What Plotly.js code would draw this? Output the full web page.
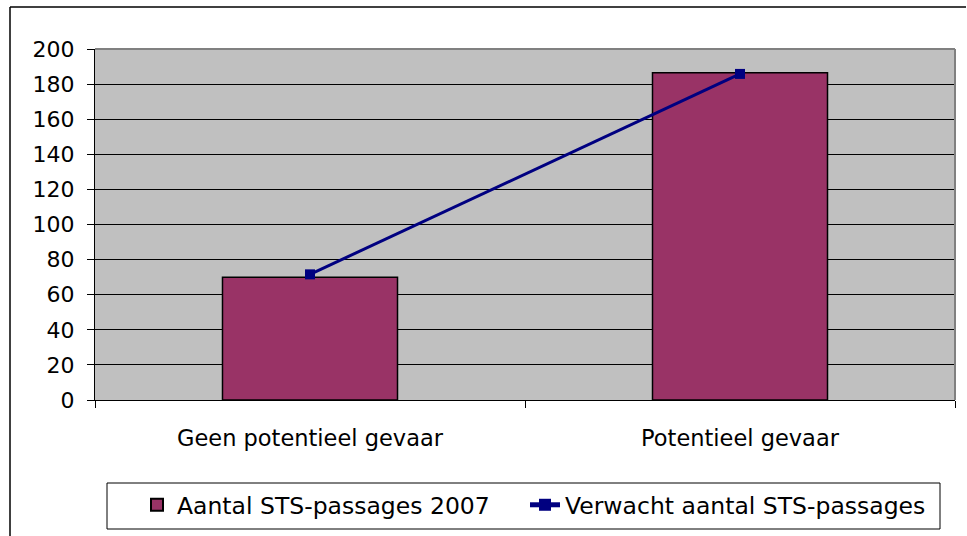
<!DOCTYPE html>
<html>
<head>
<meta charset="utf-8">
<script src="https://cdn.plot.ly/plotly-3.0.1.min.js"></script>
<style>html,body{margin:0;padding:0;background:#fff}#chart{width:967px;height:536px}</style>
</head>
<body>
<div id="chart"></div>
<script>
const categories = ["Geen potentieel gevaar", "Potentieel gevaar"];
const barName = "Aantal STS-passages 2007";
const barValues = [70, 186.5];
const lineName = "Verwacht aantal STS-passages";
const lineValues = [71.6, 185.8];
const yTicks = [0, 20, 40, 60, 80, 100, 120, 140, 160, 180, 200];

const W = 967, H = 536;
const L = 95, R = 12, T = 49, B = 136;
const pw = W - L - R, ph = H - T - B;
const px = x => (x - L) / pw;
const py = y => (H - B - y) / ph;

const fam = "DejaVu Sans, Liberation Sans, Arial, sans-serif";
const yFont = {family: fam, size: 22, color: "#000"};
const xFont = {family: fam, size: 22.5, color: "#000"};
const legFont = {family: fam, size: 23.5, color: "#000"};

const data = [
  {
    type: "bar", name: barName, x: categories, y: barValues,
    legend: "legend",
    marker: {color: "#993366", line: {color: "#000", width: 1.5}}
  },
  {
    type: "scatter", mode: "lines+markers", name: lineName, x: categories, y: lineValues,
    legend: "legend2",
    line: {color: "#000080", width: 3},
    marker: {symbol: "square", size: 10, color: "#000080"}
  }
];

const legBase = {
  orientation: "h",
  y: py(483), yanchor: "top",
  borderwidth: 0,
  bgcolor: "rgba(0,0,0,0)",
  font: legFont,
  itemsizing: "constant"
};

const layout = {
  width: W, height: H,
  margin: {l: L, r: R, t: T, b: B, pad: 0, autoexpand: false},
  paper_bgcolor: "#fff",
  plot_bgcolor: "#C0C0C0",
  font: yFont,
  showlegend: true,
  bargap: 0.593,
  xaxis: {
    type: "category",
    automargin: false,
    tickson: "boundaries",
    ticks: "outside", ticklen: 7, tickcolor: "#000", tickwidth: 1,
    ticklabelstandoff: 18,
    showline: true, linecolor: "#000", linewidth: 1,
    showgrid: false, zeroline: false,
    tickfont: xFont, fixedrange: true
  },
  yaxis: {
    range: [0, 200],
    automargin: false,
    tickvals: yTicks, ticktext: yTicks.map(String),
    ticks: "outside", ticklen: 7, tickcolor: "#000", tickwidth: 1,
    ticklabelstandoff: 8,
    showline: true, linecolor: "#000", linewidth: 1,
    showgrid: true, gridcolor: "#000", gridwidth: 1,
    zeroline: false,
    tickfont: yFont, fixedrange: true
  },
  legend: Object.assign({}, legBase, {x: px(137), xanchor: "left"}),
  legend2: Object.assign({}, legBase, {x: px(525), xanchor: "left"}),
  shapes: [
    {type: "line", xref: "paper", yref: "paper", x0: 0, x1: 1, y0: 1, y1: 1, line: {color: "#808080", width: 2}},
    {type: "line", xref: "paper", yref: "paper", x0: 1, x1: 1, y0: 0, y1: 1, line: {color: "#808080", width: 2}},
    {type: "line", xref: "paper", yref: "paper", x0: px(10), x1: px(966), y0: py(7), y1: py(7), line: {color: "#000", width: 1.5}},
    {type: "line", xref: "paper", yref: "paper", x0: px(10), x1: px(10), y0: py(7), y1: py(536), line: {color: "#000", width: 1.5}},
    {type: "rect", xref: "paper", yref: "paper", x0: px(107), x1: px(940), y0: py(483), y1: py(529), line: {color: "#000", width: 1}, fillcolor: "rgba(0,0,0,0)"}
  ]
};

Plotly.newPlot("chart", data, layout, {displayModeBar: false, staticPlot: true});
</script>
</body>
</html>
